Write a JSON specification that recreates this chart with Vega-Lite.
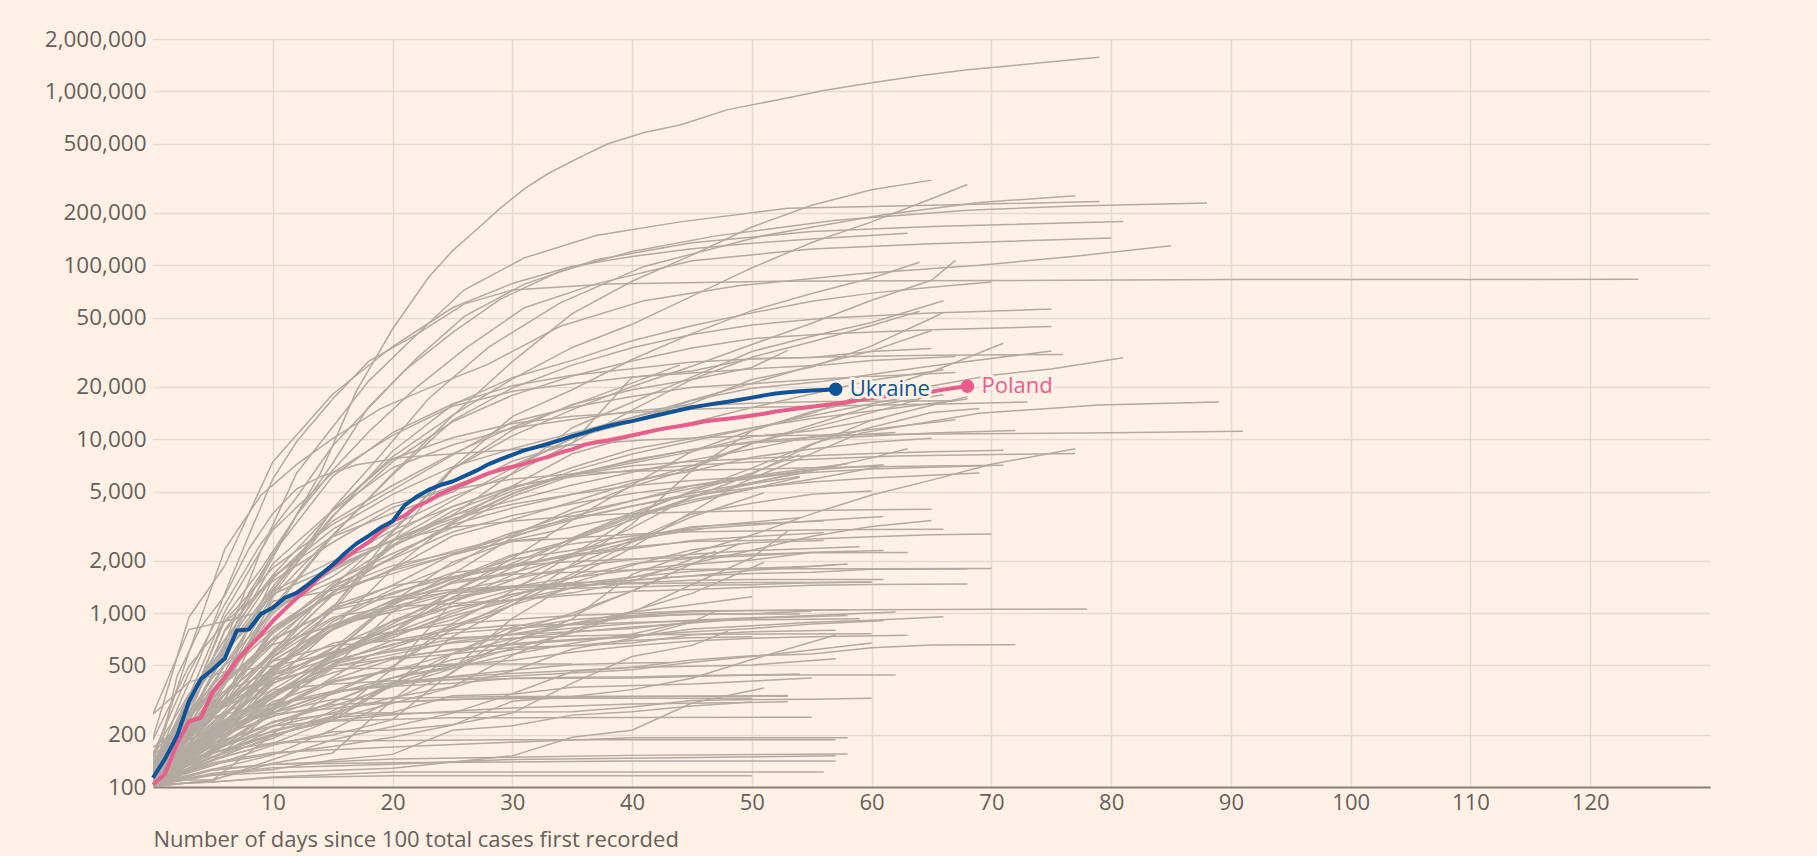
{
"$schema":"https://vega.github.io/schema/vega-lite/v6.json",
"width":1557,"height":748,
"autosize":{"type":"none"},
"padding":{"left":153,"top":39,"right":107,"bottom":69},
"background":"#fff1e5",
"config":{"view":{"stroke":null},"font":"Open Sans"},
"datasets":{
"grey":[
{"c":"US","d":0,"v":118},{"c":"US","d":3,"v":319},{"c":"US","d":6,"v":589},{"c":"US","d":8,"v":1301},{"c":"US","d":11,"v":2800},{"c":"US","d":14,"v":6400},{"c":"US","d":17,"v":19000},{"c":"US","d":20,"v":43000},{"c":"US","d":23,"v":85000},{"c":"US","d":25,"v":121000},{"c":"US","d":27,"v":160000},{"c":"US","d":29,"v":213000},{"c":"US","d":31,"v":275000},{"c":"US","d":33,"v":337000},{"c":"US","d":36,"v":430000},{"c":"US","d":38,"v":500000},{"c":"US","d":41,"v":580000},{"c":"US","d":44,"v":640000},{"c":"US","d":48,"v":785000},{"c":"US","d":52,"v":890000},{"c":"US","d":56,"v":1010000},{"c":"US","d":60,"v":1120000},{"c":"US","d":64,"v":1230000},{"c":"US","d":68,"v":1330000},{"c":"US","d":71,"v":1390000},{"c":"US","d":75,"v":1480000},{"c":"US","d":79,"v":1570000},
{"c":"China","d":0,"v":121},{"c":"China","d":2,"v":278},{"c":"China","d":4,"v":571},{"c":"China","d":6,"v":1300},{"c":"China","d":8,"v":2800},{"c":"China","d":10,"v":5900},{"c":"China","d":12,"v":9700},{"c":"China","d":15,"v":17000},{"c":"China","d":18,"v":28000},{"c":"China","d":22,"v":40000},{"c":"China","d":26,"v":60000},{"c":"China","d":30,"v":72000},{"c":"China","d":38,"v":78000},{"c":"China","d":52,"v":80800},{"c":"China","d":70,"v":81600},{"c":"China","d":90,"v":82700},{"c":"China","d":124,"v":82960},
{"c":"Italy","d":0,"v":155},{"c":"Italy","d":3,"v":453},{"c":"Italy","d":6,"v":1128},{"c":"Italy","d":9,"v":2502},{"c":"Italy","d":12,"v":4636},{"c":"Italy","d":15,"v":9172},{"c":"Italy","d":18,"v":15113},{"c":"Italy","d":21,"v":24747},{"c":"Italy","d":25,"v":41035},{"c":"Italy","d":29,"v":63927},{"c":"Italy","d":34,"v":92472},{"c":"Italy","d":40,"v":119827},{"c":"Italy","d":47,"v":147577},{"c":"Italy","d":57,"v":181228},{"c":"Italy","d":68,"v":207428},{"c":"Italy","d":77,"v":219070},{"c":"Italy","d":88,"v":228006},
{"c":"Spain","d":0,"v":120},{"c":"Spain","d":3,"v":282},{"c":"Spain","d":6,"v":673},{"c":"Spain","d":9,"v":2277},{"c":"Spain","d":12,"v":6391},{"c":"Spain","d":15,"v":11748},{"c":"Spain","d":18,"v":21571},{"c":"Spain","d":22,"v":39885},{"c":"Spain","d":26,"v":72248},{"c":"Spain","d":31,"v":110238},{"c":"Spain","d":37,"v":148220},{"c":"Spain","d":44,"v":177633},{"c":"Spain","d":53,"v":213024},{"c":"Spain","d":64,"v":220325},{"c":"Spain","d":79,"v":232555},
{"c":"Germany","d":0,"v":130},{"c":"Germany","d":3,"v":262},{"c":"Germany","d":6,"v":800},{"c":"Germany","d":9,"v":1565},{"c":"Germany","d":12,"v":3675},{"c":"Germany","d":15,"v":7272},{"c":"Germany","d":18,"v":15320},{"c":"Germany","d":22,"v":29056},{"c":"Germany","d":26,"v":50871},{"c":"Germany","d":31,"v":77872},{"c":"Germany","d":37,"v":107663},{"c":"Germany","d":45,"v":134753},{"c":"Germany","d":55,"v":156513},{"c":"Germany","d":65,"v":167007},{"c":"Germany","d":81,"v":178473},
{"c":"France","d":0,"v":130},{"c":"France","d":3,"v":285},{"c":"France","d":6,"v":949},{"c":"France","d":9,"v":1784},{"c":"France","d":12,"v":3661},{"c":"France","d":15,"v":6633},{"c":"France","d":18,"v":10995},{"c":"France","d":22,"v":19856},{"c":"France","d":26,"v":32964},{"c":"France","d":31,"v":56989},{"c":"France","d":37,"v":78167},{"c":"France","d":45,"v":106206},{"c":"France","d":55,"v":124114},{"c":"France","d":65,"v":132967},{"c":"France","d":80,"v":143427},
{"c":"UK","d":0,"v":115},{"c":"UK","d":3,"v":273},{"c":"UK","d":6,"v":456},{"c":"UK","d":9,"v":1140},{"c":"UK","d":12,"v":1950},{"c":"UK","d":15,"v":3983},{"c":"UK","d":19,"v":8077},{"c":"UK","d":23,"v":17089},{"c":"UK","d":28,"v":33718},{"c":"UK","d":34,"v":60733},{"c":"UK","d":41,"v":98476},{"c":"UK","d":51,"v":148377},{"c":"UK","d":61,"v":194990},{"c":"UK","d":69,"v":229705},{"c":"UK","d":77,"v":250908},
{"c":"Iran","d":0,"v":141},{"c":"Iran","d":3,"v":593},{"c":"Iran","d":6,"v":2336},{"c":"Iran","d":9,"v":4747},{"c":"Iran","d":12,"v":7161},{"c":"Iran","d":15,"v":10075},{"c":"Iran","d":19,"v":14991},{"c":"Iran","d":23,"v":19644},{"c":"Iran","d":28,"v":27017},{"c":"Iran","d":34,"v":44605},{"c":"Iran","d":41,"v":62589},{"c":"Iran","d":49,"v":76389},{"c":"Iran","d":59,"v":89328},{"c":"Iran","d":69,"v":99970},{"c":"Iran","d":77,"v":112725},{"c":"Iran","d":85,"v":129341},
{"c":"Russia","d":0,"v":114},{"c":"Russia","d":3,"v":253},{"c":"Russia","d":6,"v":438},{"c":"Russia","d":10,"v":1036},{"c":"Russia","d":15,"v":2777},{"c":"Russia","d":20,"v":6343},{"c":"Russia","d":25,"v":13584},{"c":"Russia","d":30,"v":27938},{"c":"Russia","d":35,"v":52763},{"c":"Russia","d":40,"v":80949},{"c":"Russia","d":45,"v":114431},{"c":"Russia","d":50,"v":165929},{"c":"Russia","d":55,"v":221344},{"c":"Russia","d":60,"v":272043},{"c":"Russia","d":65,"v":308705},
{"c":"Brazil","d":0,"v":151},{"c":"Brazil","d":3,"v":234},{"c":"Brazil","d":6,"v":621},{"c":"Brazil","d":10,"v":1924},{"c":"Brazil","d":15,"v":3904},{"c":"Brazil","d":20,"v":7910},{"c":"Brazil","d":25,"v":13717},{"c":"Brazil","d":30,"v":22169},{"c":"Brazil","d":35,"v":33682},{"c":"Brazil","d":40,"v":45757},{"c":"Brazil","d":45,"v":66501},{"c":"Brazil","d":50,"v":96559},{"c":"Brazil","d":55,"v":135106},{"c":"Brazil","d":60,"v":177589},{"c":"Brazil","d":65,"v":241080},{"c":"Brazil","d":68,"v":291579},
{"c":"Turkey","d":0,"v":191},{"c":"Turkey","d":3,"v":947},{"c":"Turkey","d":6,"v":1872},{"c":"Turkey","d":10,"v":7402},{"c":"Turkey","d":15,"v":18135},{"c":"Turkey","d":20,"v":34109},{"c":"Turkey","d":25,"v":56956},{"c":"Turkey","d":30,"v":78546},{"c":"Turkey","d":35,"v":98674},{"c":"Turkey","d":40,"v":112261},{"c":"Turkey","d":45,"v":124375},{"c":"Turkey","d":50,"v":133721},{"c":"Turkey","d":55,"v":141475},{"c":"Turkey","d":63,"v":152587},
{"c":"Canada","d":0,"v":103},{"c":"Canada","d":3,"v":198},{"c":"Canada","d":6,"v":424},{"c":"Canada","d":10,"v":1278},{"c":"Canada","d":15,"v":3579},{"c":"Canada","d":20,"v":8527},{"c":"Canada","d":25,"v":15756},{"c":"Canada","d":30,"v":22559},{"c":"Canada","d":35,"v":28379},{"c":"Canada","d":40,"v":36829},{"c":"Canada","d":45,"v":44919},{"c":"Canada","d":50,"v":53236},{"c":"Canada","d":55,"v":62046},{"c":"Canada","d":60,"v":69156},{"c":"Canada","d":65,"v":74781},{"c":"Canada","d":70,"v":80142},
{"c":"Belgium","d":0,"v":169},{"c":"Belgium","d":3,"v":239},{"c":"Belgium","d":6,"v":314},{"c":"Belgium","d":10,"v":1243},{"c":"Belgium","d":15,"v":2815},{"c":"Belgium","d":20,"v":6235},{"c":"Belgium","d":25,"v":12775},{"c":"Belgium","d":30,"v":19691},{"c":"Belgium","d":35,"v":26667},{"c":"Belgium","d":40,"v":33573},{"c":"Belgium","d":45,"v":39983},{"c":"Belgium","d":50,"v":45325},{"c":"Belgium","d":56,"v":49517},{"c":"Belgium","d":65,"v":53081},{"c":"Belgium","d":75,"v":55983},
{"c":"Netherlands","d":0,"v":128},{"c":"Netherlands","d":3,"v":321},{"c":"Netherlands","d":6,"v":614},{"c":"Netherlands","d":10,"v":1413},{"c":"Netherlands","d":15,"v":3631},{"c":"Netherlands","d":20,"v":7431},{"c":"Netherlands","d":25,"v":12595},{"c":"Netherlands","d":30,"v":17851},{"c":"Netherlands","d":35,"v":23097},{"c":"Netherlands","d":40,"v":28153},{"c":"Netherlands","d":45,"v":33405},{"c":"Netherlands","d":50,"v":37845},{"c":"Netherlands","d":56,"v":40236},{"c":"Netherlands","d":65,"v":42627},{"c":"Netherlands","d":75,"v":44447},
{"c":"Switzerland","d":0,"v":120},{"c":"Switzerland","d":3,"v":337},{"c":"Switzerland","d":6,"v":652},{"c":"Switzerland","d":10,"v":2200},{"c":"Switzerland","d":15,"v":6113},{"c":"Switzerland","d":20,"v":10897},{"c":"Switzerland","d":25,"v":15922},{"c":"Switzerland","d":30,"v":20278},{"c":"Switzerland","d":35,"v":23280},{"c":"Switzerland","d":40,"v":25415},{"c":"Switzerland","d":45,"v":27740},{"c":"Switzerland","d":50,"v":28894},{"c":"Switzerland","d":56,"v":29705},{"c":"Switzerland","d":65,"v":30344},{"c":"Switzerland","d":76,"v":30658},
{"c":"Sweden","d":0,"v":137},{"c":"Sweden","d":3,"v":248},{"c":"Sweden","d":6,"v":620},{"c":"Sweden","d":10,"v":1103},{"c":"Sweden","d":15,"v":1623},{"c":"Sweden","d":20,"v":2806},{"c":"Sweden","d":25,"v":4435},{"c":"Sweden","d":30,"v":6830},{"c":"Sweden","d":35,"v":10151},{"c":"Sweden","d":40,"v":12540},{"c":"Sweden","d":45,"v":16755},{"c":"Sweden","d":50,"v":19621},{"c":"Sweden","d":56,"v":21520},{"c":"Sweden","d":65,"v":26322},{"c":"Sweden","d":75,"v":32172},
{"c":"Portugal","d":0,"v":112},{"c":"Portugal","d":3,"v":331},{"c":"Portugal","d":6,"v":1020},{"c":"Portugal","d":10,"v":2995},{"c":"Portugal","d":15,"v":6408},{"c":"Portugal","d":20,"v":10524},{"c":"Portugal","d":25,"v":15472},{"c":"Portugal","d":30,"v":18841},{"c":"Portugal","d":35,"v":20863},{"c":"Portugal","d":40,"v":22797},{"c":"Portugal","d":45,"v":24027},{"c":"Portugal","d":50,"v":25351},{"c":"Portugal","d":56,"v":26715},{"c":"Portugal","d":60,"v":28319},{"c":"Portugal","d":67,"v":29912},
{"c":"Austria","d":0,"v":104},{"c":"Austria","d":3,"v":246},{"c":"Austria","d":6,"v":504},{"c":"Austria","d":10,"v":1332},{"c":"Austria","d":15,"v":3924},{"c":"Austria","d":20,"v":7697},{"c":"Austria","d":25,"v":10180},{"c":"Austria","d":30,"v":12297},{"c":"Austria","d":35,"v":13560},{"c":"Austria","d":40,"v":14226},{"c":"Austria","d":45,"v":14873},{"c":"Austria","d":50,"v":15225},{"c":"Austria","d":56,"v":15531},{"c":"Austria","d":65,"v":15871},{"c":"Austria","d":73,"v":16353},
{"c":"Israel","d":0,"v":126},{"c":"Israel","d":3,"v":337},{"c":"Israel","d":6,"v":705},{"c":"Israel","d":10,"v":1656},{"c":"Israel","d":15,"v":3865},{"c":"Israel","d":20,"v":6857},{"c":"Israel","d":25,"v":9248},{"c":"Israel","d":30,"v":11586},{"c":"Israel","d":35,"v":12982},{"c":"Israel","d":40,"v":14498},{"c":"Israel","d":45,"v":15589},{"c":"Israel","d":50,"v":16101},{"c":"Israel","d":56,"v":16454},{"c":"Israel","d":67,"v":16659},
{"c":"Ireland","d":0,"v":129},{"c":"Ireland","d":3,"v":292},{"c":"Ireland","d":6,"v":906},{"c":"Ireland","d":10,"v":1819},{"c":"Ireland","d":15,"v":3235},{"c":"Ireland","d":20,"v":5111},{"c":"Ireland","d":25,"v":8089},{"c":"Ireland","d":30,"v":12547},{"c":"Ireland","d":35,"v":15251},{"c":"Ireland","d":40,"v":17607},{"c":"Ireland","d":45,"v":19877},{"c":"Ireland","d":50,"v":20833},{"c":"Ireland","d":56,"v":22248},{"c":"Ireland","d":67,"v":24200},
{"c":"Chile","d":0,"v":156},{"c":"Chile","d":3,"v":342},{"c":"Chile","d":6,"v":632},{"c":"Chile","d":10,"v":1610},{"c":"Chile","d":15,"v":3031},{"c":"Chile","d":20,"v":4815},{"c":"Chile","d":25,"v":6927},{"c":"Chile","d":30,"v":8807},{"c":"Chile","d":35,"v":10832},{"c":"Chile","d":40,"v":13331},{"c":"Chile","d":45,"v":16023},{"c":"Chile","d":50,"v":22016},{"c":"Chile","d":55,"v":25972},{"c":"Chile","d":60,"v":34381},{"c":"Chile","d":65,"v":49579},{"c":"Chile","d":66,"v":53617},
{"c":"Peru","d":0,"v":117},{"c":"Peru","d":3,"v":263},{"c":"Peru","d":6,"v":395},{"c":"Peru","d":10,"v":671},{"c":"Peru","d":15,"v":1414},{"c":"Peru","d":20,"v":2954},{"c":"Peru","d":25,"v":6848},{"c":"Peru","d":30,"v":13489},{"c":"Peru","d":35,"v":19250},{"c":"Peru","d":40,"v":28699},{"c":"Peru","d":45,"v":40459},{"c":"Peru","d":50,"v":54817},{"c":"Peru","d":55,"v":68822},{"c":"Peru","d":60,"v":84495},{"c":"Peru","d":64,"v":104020},
{"c":"India","d":0,"v":102},{"c":"India","d":3,"v":137},{"c":"India","d":6,"v":227},{"c":"India","d":10,"v":562},{"c":"India","d":15,"v":1024},{"c":"India","d":20,"v":2567},{"c":"India","d":25,"v":6725},{"c":"India","d":30,"v":10453},{"c":"India","d":35,"v":14792},{"c":"India","d":40,"v":20080},{"c":"India","d":45,"v":26283},{"c":"India","d":50,"v":35043},{"c":"India","d":55,"v":46437},{"c":"India","d":60,"v":62939},{"c":"India","d":65,"v":81997},{"c":"India","d":67,"v":106750},
{"c":"Saudi Arabia","d":0,"v":103},{"c":"Saudi Arabia","d":3,"v":171},{"c":"Saudi Arabia","d":6,"v":344},{"c":"Saudi Arabia","d":10,"v":767},{"c":"Saudi Arabia","d":15,"v":1299},{"c":"Saudi Arabia","d":20,"v":2402},{"c":"Saudi Arabia","d":25,"v":3651},{"c":"Saudi Arabia","d":30,"v":6380},{"c":"Saudi Arabia","d":35,"v":11631},{"c":"Saudi Arabia","d":40,"v":16299},{"c":"Saudi Arabia","d":45,"v":22753},{"c":"Saudi Arabia","d":50,"v":31938},{"c":"Saudi Arabia","d":55,"v":39048},{"c":"Saudi Arabia","d":60,"v":46869},{"c":"Saudi Arabia","d":66,"v":62545},
{"c":"Mexico","d":0,"v":118},{"c":"Mexico","d":3,"v":251},{"c":"Mexico","d":6,"v":405},{"c":"Mexico","d":10,"v":993},{"c":"Mexico","d":15,"v":1890},{"c":"Mexico","d":20,"v":3181},{"c":"Mexico","d":25,"v":4661},{"c":"Mexico","d":30,"v":6297},{"c":"Mexico","d":35,"v":9501},{"c":"Mexico","d":40,"v":14677},{"c":"Mexico","d":45,"v":22088},{"c":"Mexico","d":50,"v":29616},{"c":"Mexico","d":55,"v":36327},{"c":"Mexico","d":60,"v":45032},{"c":"Mexico","d":64,"v":54346},
{"c":"Pakistan","d":0,"v":187},{"c":"Pakistan","d":3,"v":495},{"c":"Pakistan","d":6,"v":887},{"c":"Pakistan","d":10,"v":1526},{"c":"Pakistan","d":15,"v":2546},{"c":"Pakistan","d":20,"v":4035},{"c":"Pakistan","d":25,"v":5374},{"c":"Pakistan","d":30,"v":7025},{"c":"Pakistan","d":35,"v":10076},{"c":"Pakistan","d":40,"v":13328},{"c":"Pakistan","d":45,"v":16817},{"c":"Pakistan","d":50,"v":20941},{"c":"Pakistan","d":55,"v":26435},{"c":"Pakistan","d":60,"v":32081},{"c":"Pakistan","d":65,"v":42125},
{"c":"Qatar","d":0,"v":262},{"c":"Qatar","d":3,"v":401},{"c":"Qatar","d":6,"v":460},{"c":"Qatar","d":10,"v":494},{"c":"Qatar","d":15,"v":590},{"c":"Qatar","d":20,"v":781},{"c":"Qatar","d":25,"v":1325},{"c":"Qatar","d":30,"v":2057},{"c":"Qatar","d":35,"v":3428},{"c":"Qatar","d":40,"v":5448},{"c":"Qatar","d":45,"v":8525},{"c":"Qatar","d":50,"v":11244},{"c":"Qatar","d":55,"v":14096},{"c":"Qatar","d":60,"v":18890},{"c":"Qatar","d":65,"v":24314},{"c":"Qatar","d":71,"v":35606},
{"c":"Singapore","d":0,"v":106},{"c":"Singapore","d":6,"v":150},{"c":"Singapore","d":10,"v":178},{"c":"Singapore","d":15,"v":243},{"c":"Singapore","d":20,"v":385},{"c":"Singapore","d":25,"v":732},{"c":"Singapore","d":30,"v":1114},{"c":"Singapore","d":35,"v":1910},{"c":"Singapore","d":40,"v":3252},{"c":"Singapore","d":45,"v":6588},{"c":"Singapore","d":50,"v":11178},{"c":"Singapore","d":55,"v":14423},{"c":"Singapore","d":60,"v":17101},{"c":"Singapore","d":65,"v":20198},{"c":"Singapore","d":70,"v":23336},{"c":"Singapore","d":75,"v":25346},{"c":"Singapore","d":81,"v":29364},
{"c":"Japan","d":0,"v":105},{"c":"Japan","d":9,"v":241},{"c":"Japan","d":18,"v":568},{"c":"Japan","d":28,"v":963},{"c":"Japan","d":39,"v":2178},{"c":"Japan","d":49,"v":5548},{"c":"Japan","d":59,"v":10797},{"c":"Japan","d":69,"v":14088},{"c":"Japan","d":79,"v":15747},{"c":"Japan","d":89,"v":16367},
{"c":"South Korea","d":0,"v":104},{"c":"South Korea","d":2,"v":433},{"c":"South Korea","d":4,"v":833},{"c":"South Korea","d":6,"v":1261},{"c":"South Korea","d":8,"v":2337},{"c":"South Korea","d":10,"v":3736},{"c":"South Korea","d":12,"v":5186},{"c":"South Korea","d":14,"v":6088},{"c":"South Korea","d":17,"v":7134},{"c":"South Korea","d":21,"v":7869},{"c":"South Korea","d":27,"v":8413},{"c":"South Korea","d":34,"v":9137},{"c":"South Korea","d":41,"v":9887},{"c":"South Korea","d":50,"v":10450},{"c":"South Korea","d":65,"v":10718},{"c":"South Korea","d":80,"v":10874},{"c":"South Korea","d":91,"v":11122},
{"c":"Belarus","d":0,"v":100},{"c":"Belarus","d":5,"v":163},{"c":"Belarus","d":10,"v":440},{"c":"Belarus","d":15,"v":1066},{"c":"Belarus","d":20,"v":2919},{"c":"Belarus","d":25,"v":6723},{"c":"Belarus","d":30,"v":11289},{"c":"Belarus","d":35,"v":15828},{"c":"Belarus","d":40,"v":19255},{"c":"Belarus","d":45,"v":22052},{"c":"Belarus","d":50,"v":25825},{"c":"Belarus","d":53,"v":32426},
{"c":"Ecuador","d":0,"v":111},{"c":"Ecuador","d":3,"v":260},{"c":"Ecuador","d":6,"v":789},{"c":"Ecuador","d":10,"v":1627},{"c":"Ecuador","d":15,"v":2748},{"c":"Ecuador","d":20,"v":3747},{"c":"Ecuador","d":25,"v":4965},{"c":"Ecuador","d":30,"v":7466},{"c":"Ecuador","d":35,"v":9468},{"c":"Ecuador","d":40,"v":22719},{"c":"Ecuador","d":45,"v":24675},{"c":"Ecuador","d":50,"v":29071},{"c":"Ecuador","d":55,"v":29509},{"c":"Ecuador","d":60,"v":31881},{"c":"Ecuador","d":65,"v":33182},
{"c":"Indonesia","d":0,"v":117},{"c":"Indonesia","d":3,"v":227},{"c":"Indonesia","d":6,"v":450},{"c":"Indonesia","d":10,"v":790},{"c":"Indonesia","d":15,"v":1414},{"c":"Indonesia","d":20,"v":2092},{"c":"Indonesia","d":25,"v":3293},{"c":"Indonesia","d":30,"v":4839},{"c":"Indonesia","d":35,"v":6575},{"c":"Indonesia","d":40,"v":8211},{"c":"Indonesia","d":45,"v":9771},{"c":"Indonesia","d":50,"v":11587},{"c":"Indonesia","d":55,"v":13645},{"c":"Indonesia","d":60,"v":16006},{"c":"Indonesia","d":66,"v":19189},
{"c":"Philippines","d":0,"v":111},{"c":"Philippines","d":3,"v":187},{"c":"Philippines","d":6,"v":230},{"c":"Philippines","d":10,"v":462},{"c":"Philippines","d":15,"v":1075},{"c":"Philippines","d":20,"v":2633},{"c":"Philippines","d":25,"v":3660},{"c":"Philippines","d":30,"v":4428},{"c":"Philippines","d":35,"v":5453},{"c":"Philippines","d":40,"v":6459},{"c":"Philippines","d":45,"v":7579},{"c":"Philippines","d":50,"v":8772},{"c":"Philippines","d":55,"v":10343},{"c":"Philippines","d":60,"v":11350},{"c":"Philippines","d":67,"v":12942},
{"c":"Romania","d":0,"v":123},{"c":"Romania","d":3,"v":217},{"c":"Romania","d":6,"v":308},{"c":"Romania","d":10,"v":576},{"c":"Romania","d":15,"v":1292},{"c":"Romania","d":20,"v":2460},{"c":"Romania","d":25,"v":3864},{"c":"Romania","d":30,"v":5202},{"c":"Romania","d":35,"v":6879},{"c":"Romania","d":40,"v":8746},{"c":"Romania","d":45,"v":10096},{"c":"Romania","d":50,"v":11616},{"c":"Romania","d":55,"v":13163},{"c":"Romania","d":60,"v":14499},{"c":"Romania","d":68,"v":17036},
{"c":"Denmark","d":0,"v":264},{"c":"Denmark","d":3,"v":804},{"c":"Denmark","d":6,"v":898},{"c":"Denmark","d":10,"v":1057},{"c":"Denmark","d":15,"v":1514},{"c":"Denmark","d":20,"v":2201},{"c":"Denmark","d":25,"v":3107},{"c":"Denmark","d":30,"v":4681},{"c":"Denmark","d":35,"v":6174},{"c":"Denmark","d":40,"v":7580},{"c":"Denmark","d":45,"v":8698},{"c":"Denmark","d":50,"v":9523},{"c":"Denmark","d":56,"v":10083},{"c":"Denmark","d":65,"v":10858},{"c":"Denmark","d":72,"v":11230},
{"c":"Norway","d":0,"v":108},{"c":"Norway","d":3,"v":192},{"c":"Norway","d":6,"v":400},{"c":"Norway","d":10,"v":1077},{"c":"Norway","d":15,"v":1746},{"c":"Norway","d":20,"v":2625},{"c":"Norway","d":25,"v":4102},{"c":"Norway","d":30,"v":5370},{"c":"Norway","d":35,"v":6086},{"c":"Norway","d":40,"v":6623},{"c":"Norway","d":45,"v":7078},{"c":"Norway","d":50,"v":7401},{"c":"Norway","d":55,"v":7660},{"c":"Norway","d":62,"v":7996},{"c":"Norway","d":69,"v":8132},{"c":"Norway","d":77,"v":8267},
{"c":"Czechia","d":0,"v":116},{"c":"Czechia","d":3,"v":253},{"c":"Czechia","d":6,"v":434},{"c":"Czechia","d":10,"v":1047},{"c":"Czechia","d":15,"v":1925},{"c":"Czechia","d":20,"v":3001},{"c":"Czechia","d":25,"v":4091},{"c":"Czechia","d":30,"v":5312},{"c":"Czechia","d":35,"v":6216},{"c":"Czechia","d":40,"v":7033},{"c":"Czechia","d":45,"v":7445},{"c":"Czechia","d":50,"v":7737},{"c":"Czechia","d":55,"v":8031},{"c":"Czechia","d":60,"v":8269},{"c":"Czechia","d":65,"v":8455},{"c":"Czechia","d":71,"v":8647},
{"c":"Dominican Rep","d":0,"v":112},{"c":"Dominican Rep","d":3,"v":245},{"c":"Dominican Rep","d":6,"v":581},{"c":"Dominican Rep","d":10,"v":1284},{"c":"Dominican Rep","d":15,"v":1828},{"c":"Dominican Rep","d":20,"v":2620},{"c":"Dominican Rep","d":25,"v":3614},{"c":"Dominican Rep","d":30,"v":5044},{"c":"Dominican Rep","d":35,"v":6293},{"c":"Dominican Rep","d":40,"v":7288},{"c":"Dominican Rep","d":45,"v":8480},{"c":"Dominican Rep","d":50,"v":10347},{"c":"Dominican Rep","d":55,"v":11196},{"c":"Dominican Rep","d":61,"v":13223},
{"c":"Panama","d":0,"v":109},{"c":"Panama","d":3,"v":200},{"c":"Panama","d":6,"v":345},{"c":"Panama","d":10,"v":786},{"c":"Panama","d":15,"v":1317},{"c":"Panama","d":20,"v":2100},{"c":"Panama","d":25,"v":3234},{"c":"Panama","d":30,"v":4016},{"c":"Panama","d":35,"v":4821},{"c":"Panama","d":40,"v":5779},{"c":"Panama","d":45,"v":6532},{"c":"Panama","d":50,"v":7868},{"c":"Panama","d":55,"v":8783},{"c":"Panama","d":60,"v":9606},{"c":"Panama","d":65,"v":10116},
{"c":"Colombia","d":0,"v":102},{"c":"Colombia","d":3,"v":210},{"c":"Colombia","d":6,"v":306},{"c":"Colombia","d":10,"v":608},{"c":"Colombia","d":15,"v":1267},{"c":"Colombia","d":20,"v":1780},{"c":"Colombia","d":25,"v":2776},{"c":"Colombia","d":30,"v":3439},{"c":"Colombia","d":35,"v":4356},{"c":"Colombia","d":40,"v":5597},{"c":"Colombia","d":45,"v":7006},{"c":"Colombia","d":50,"v":9456},{"c":"Colombia","d":55,"v":11613},{"c":"Colombia","d":60,"v":14216},{"c":"Colombia","d":64,"v":16935},
{"c":"South Africa","d":0,"v":114},{"c":"South Africa","d":3,"v":202},{"c":"South Africa","d":6,"v":402},{"c":"South Africa","d":10,"v":1170},{"c":"South Africa","d":15,"v":1353},{"c":"South Africa","d":20,"v":1686},{"c":"South Africa","d":25,"v":2173},{"c":"South Africa","d":30,"v":2783},{"c":"South Africa","d":35,"v":3953},{"c":"South Africa","d":40,"v":5350},{"c":"South Africa","d":45,"v":6783},{"c":"South Africa","d":50,"v":9420},{"c":"South Africa","d":55,"v":12074},{"c":"South Africa","d":60,"v":15515},{"c":"South Africa","d":66,"v":18003},
{"c":"Egypt","d":0,"v":109},{"c":"Egypt","d":3,"v":126},{"c":"Egypt","d":6,"v":196},{"c":"Egypt","d":10,"v":327},{"c":"Egypt","d":15,"v":576},{"c":"Egypt","d":20,"v":865},{"c":"Egypt","d":25,"v":1322},{"c":"Egypt","d":30,"v":1939},{"c":"Egypt","d":35,"v":2673},{"c":"Egypt","d":40,"v":3659},{"c":"Egypt","d":45,"v":5042},{"c":"Egypt","d":50,"v":6813},{"c":"Egypt","d":55,"v":9400},{"c":"Egypt","d":60,"v":11719},{"c":"Egypt","d":65,"v":14229},{"c":"Egypt","d":69,"v":15003},
{"c":"Argentina","d":0,"v":128},{"c":"Argentina","d":3,"v":225},{"c":"Argentina","d":6,"v":502},{"c":"Argentina","d":10,"v":820},{"c":"Argentina","d":15,"v":1265},{"c":"Argentina","d":20,"v":1795},{"c":"Argentina","d":25,"v":2272},{"c":"Argentina","d":30,"v":2758},{"c":"Argentina","d":35,"v":3435},{"c":"Argentina","d":40,"v":4127},{"c":"Argentina","d":45,"v":4887},{"c":"Argentina","d":50,"v":5611},{"c":"Argentina","d":55,"v":6563},{"c":"Argentina","d":60,"v":7805},{"c":"Argentina","d":63,"v":8809},
{"c":"Kuwait","d":0,"v":100},{"c":"Kuwait","d":3,"v":123},{"c":"Kuwait","d":6,"v":176},{"c":"Kuwait","d":10,"v":208},{"c":"Kuwait","d":15,"v":255},{"c":"Kuwait","d":20,"v":479},{"c":"Kuwait","d":25,"v":1154},{"c":"Kuwait","d":30,"v":1658},{"c":"Kuwait","d":35,"v":2614},{"c":"Kuwait","d":40,"v":3440},{"c":"Kuwait","d":45,"v":4619},{"c":"Kuwait","d":50,"v":6289},{"c":"Kuwait","d":55,"v":9286},{"c":"Kuwait","d":60,"v":12860},{"c":"Kuwait","d":65,"v":15691},{"c":"Kuwait","d":68,"v":17568},
{"c":"UAE","d":0,"v":113},{"c":"UAE","d":3,"v":140},{"c":"UAE","d":6,"v":198},{"c":"UAE","d":10,"v":405},{"c":"UAE","d":15,"v":814},{"c":"UAE","d":20,"v":1799},{"c":"UAE","d":25,"v":3360},{"c":"UAE","d":30,"v":5365},{"c":"UAE","d":35,"v":8238},{"c":"UAE","d":40,"v":10349},{"c":"UAE","d":45,"v":12481},{"c":"UAE","d":50,"v":15192},{"c":"UAE","d":55,"v":18198},{"c":"UAE","d":60,"v":21831},{"c":"UAE","d":66,"v":25063},
{"c":"Bangladesh","d":0,"v":123},{"c":"Bangladesh","d":3,"v":218},{"c":"Bangladesh","d":6,"v":424},{"c":"Bangladesh","d":10,"v":1572},{"c":"Bangladesh","d":15,"v":3382},{"c":"Bangladesh","d":20,"v":5416},{"c":"Bangladesh","d":25,"v":8238},{"c":"Bangladesh","d":30,"v":11719},{"c":"Bangladesh","d":35,"v":15691},{"c":"Bangladesh","d":40,"v":20995},{"c":"Bangladesh","d":44,"v":26738},
{"c":"Serbia","d":0,"v":103},{"c":"Serbia","d":3,"v":222},{"c":"Serbia","d":6,"v":303},{"c":"Serbia","d":10,"v":785},{"c":"Serbia","d":15,"v":1476},{"c":"Serbia","d":20,"v":2447},{"c":"Serbia","d":25,"v":3380},{"c":"Serbia","d":30,"v":4873},{"c":"Serbia","d":35,"v":6318},{"c":"Serbia","d":40,"v":7483},{"c":"Serbia","d":45,"v":8724},{"c":"Serbia","d":50,"v":9677},{"c":"Serbia","d":55,"v":10258},{"c":"Serbia","d":62,"v":10919},
{"c":"Moldova","d":0,"v":125},{"c":"Moldova","d":5,"v":298},{"c":"Moldova","d":10,"v":591},{"c":"Moldova","d":15,"v":1438},{"c":"Moldova","d":20,"v":2049},{"c":"Moldova","d":25,"v":2926},{"c":"Moldova","d":30,"v":3638},{"c":"Moldova","d":35,"v":4247},{"c":"Moldova","d":40,"v":4867},{"c":"Moldova","d":45,"v":5406},{"c":"Moldova","d":50,"v":5934},{"c":"Moldova","d":57,"v":6960},
{"c":"Morocco","d":0,"v":115},{"c":"Morocco","d":3,"v":170},{"c":"Morocco","d":6,"v":275},{"c":"Morocco","d":10,"v":556},{"c":"Morocco","d":15,"v":919},{"c":"Morocco","d":20,"v":1374},{"c":"Morocco","d":25,"v":1888},{"c":"Morocco","d":30,"v":2855},{"c":"Morocco","d":35,"v":3758},{"c":"Morocco","d":40,"v":4423},{"c":"Morocco","d":45,"v":5219},{"c":"Morocco","d":50,"v":6063},{"c":"Morocco","d":55,"v":6652},{"c":"Morocco","d":61,"v":7133},
{"c":"Finland","d":0,"v":155},{"c":"Finland","d":3,"v":272},{"c":"Finland","d":6,"v":400},{"c":"Finland","d":10,"v":700},{"c":"Finland","d":15,"v":1041},{"c":"Finland","d":20,"v":1446},{"c":"Finland","d":25,"v":2176},{"c":"Finland","d":30,"v":2905},{"c":"Finland","d":35,"v":3489},{"c":"Finland","d":40,"v":4129},{"c":"Finland","d":45,"v":4740},{"c":"Finland","d":50,"v":5254},{"c":"Finland","d":55,"v":5673},{"c":"Finland","d":60,"v":5984},{"c":"Finland","d":69,"v":6399},
{"c":"Algeria","d":0,"v":139},{"c":"Algeria","d":3,"v":264},{"c":"Algeria","d":6,"v":409},{"c":"Algeria","d":10,"v":716},{"c":"Algeria","d":15,"v":1320},{"c":"Algeria","d":20,"v":1761},{"c":"Algeria","d":25,"v":2160},{"c":"Algeria","d":30,"v":2629},{"c":"Algeria","d":35,"v":3127},{"c":"Algeria","d":40,"v":3649},{"c":"Algeria","d":45,"v":4474},{"c":"Algeria","d":50,"v":5182},{"c":"Algeria","d":55,"v":5891},{"c":"Algeria","d":61,"v":7019},
{"c":"Ghana","d":0,"v":137},{"c":"Ghana","d":5,"v":195},{"c":"Ghana","d":10,"v":287},{"c":"Ghana","d":15,"v":566},{"c":"Ghana","d":20,"v":834},{"c":"Ghana","d":25,"v":1154},{"c":"Ghana","d":30,"v":1550},{"c":"Ghana","d":35,"v":2169},{"c":"Ghana","d":40,"v":3091},{"c":"Ghana","d":45,"v":4700},{"c":"Ghana","d":50,"v":5530},{"c":"Ghana","d":54,"v":6096},
{"c":"Nigeria","d":0,"v":111},{"c":"Nigeria","d":5,"v":190},{"c":"Nigeria","d":10,"v":254},{"c":"Nigeria","d":15,"v":343},{"c":"Nigeria","d":20,"v":493},{"c":"Nigeria","d":25,"v":873},{"c":"Nigeria","d":30,"v":1337},{"c":"Nigeria","d":35,"v":2170},{"c":"Nigeria","d":40,"v":3526},{"c":"Nigeria","d":45,"v":4641},{"c":"Nigeria","d":50,"v":5621},{"c":"Nigeria","d":54,"v":6401},
{"c":"Kazakhstan","d":0,"v":100},{"c":"Kazakhstan","d":5,"v":228},{"c":"Kazakhstan","d":10,"v":464},{"c":"Kazakhstan","d":15,"v":802},{"c":"Kazakhstan","d":20,"v":1109},{"c":"Kazakhstan","d":25,"v":1676},{"c":"Kazakhstan","d":30,"v":2717},{"c":"Kazakhstan","d":35,"v":3597},{"c":"Kazakhstan","d":40,"v":4422},{"c":"Kazakhstan","d":45,"v":5417},{"c":"Kazakhstan","d":50,"v":6157},{"c":"Kazakhstan","d":58,"v":7234},
{"c":"Oman","d":0,"v":131},{"c":"Oman","d":5,"v":210},{"c":"Oman","d":10,"v":331},{"c":"Oman","d":15,"v":484},{"c":"Oman","d":20,"v":1019},{"c":"Oman","d":25,"v":1508},{"c":"Oman","d":30,"v":2131},{"c":"Oman","d":35,"v":2637},{"c":"Oman","d":40,"v":3573},{"c":"Oman","d":45,"v":4341},{"c":"Oman","d":50,"v":5186},{"c":"Oman","d":54,"v":6043},
{"c":"Afghanistan","d":0,"v":110},{"c":"Afghanistan","d":5,"v":196},{"c":"Afghanistan","d":10,"v":423},{"c":"Afghanistan","d":15,"v":555},{"c":"Afghanistan","d":20,"v":906},{"c":"Afghanistan","d":25,"v":1226},{"c":"Afghanistan","d":30,"v":1828},{"c":"Afghanistan","d":35,"v":2704},{"c":"Afghanistan","d":40,"v":3778},{"c":"Afghanistan","d":45,"v":4963},{"c":"Afghanistan","d":50,"v":6402},{"c":"Afghanistan","d":54,"v":8145},
{"c":"Bahrain","d":0,"v":109},{"c":"Bahrain","d":5,"v":110},{"c":"Bahrain","d":10,"v":200},{"c":"Bahrain","d":15,"v":241},{"c":"Bahrain","d":20,"v":392},{"c":"Bahrain","d":25,"v":499},{"c":"Bahrain","d":30,"v":672},{"c":"Bahrain","d":35,"v":925},{"c":"Bahrain","d":40,"v":1671},{"c":"Bahrain","d":45,"v":2217},{"c":"Bahrain","d":50,"v":2811},{"c":"Bahrain","d":55,"v":3720},{"c":"Bahrain","d":60,"v":4774},{"c":"Bahrain","d":65,"v":5816},{"c":"Bahrain","d":70,"v":7184},{"c":"Bahrain","d":77,"v":8802},
{"c":"Luxembourg","d":0,"v":140},{"c":"Luxembourg","d":5,"v":484},{"c":"Luxembourg","d":10,"v":1333},{"c":"Luxembourg","d":15,"v":1988},{"c":"Luxembourg","d":20,"v":2612},{"c":"Luxembourg","d":25,"v":3115},{"c":"Luxembourg","d":30,"v":3373},{"c":"Luxembourg","d":35,"v":3618},{"c":"Luxembourg","d":40,"v":3741},{"c":"Luxembourg","d":45,"v":3815},{"c":"Luxembourg","d":50,"v":3871},{"c":"Luxembourg","d":55,"v":3886},{"c":"Luxembourg","d":60,"v":3930},{"c":"Luxembourg","d":65,"v":3958},
{"c":"Iceland","d":0,"v":103},{"c":"Iceland","d":5,"v":180},{"c":"Iceland","d":10,"v":473},{"c":"Iceland","d":15,"v":802},{"c":"Iceland","d":20,"v":1135},{"c":"Iceland","d":25,"v":1486},{"c":"Iceland","d":30,"v":1675},{"c":"Iceland","d":35,"v":1720},{"c":"Iceland","d":40,"v":1771},{"c":"Iceland","d":50,"v":1797},{"c":"Iceland","d":60,"v":1801},{"c":"Iceland","d":70,"v":1802},
{"c":"Estonia","d":0,"v":115},{"c":"Estonia","d":5,"v":205},{"c":"Estonia","d":10,"v":326},{"c":"Estonia","d":15,"v":575},{"c":"Estonia","d":20,"v":745},{"c":"Estonia","d":25,"v":961},{"c":"Estonia","d":30,"v":1185},{"c":"Estonia","d":35,"v":1400},{"c":"Estonia","d":40,"v":1552},{"c":"Estonia","d":45,"v":1635},{"c":"Estonia","d":50,"v":1691},{"c":"Estonia","d":55,"v":1720},{"c":"Estonia","d":60,"v":1784},{"c":"Estonia","d":68,"v":1791},
{"c":"Slovenia","d":0,"v":141},{"c":"Slovenia","d":5,"v":275},{"c":"Slovenia","d":10,"v":414},{"c":"Slovenia","d":15,"v":632},{"c":"Slovenia","d":20,"v":897},{"c":"Slovenia","d":25,"v":1091},{"c":"Slovenia","d":30,"v":1188},{"c":"Slovenia","d":35,"v":1268},{"c":"Slovenia","d":40,"v":1335},{"c":"Slovenia","d":45,"v":1366},{"c":"Slovenia","d":50,"v":1408},{"c":"Slovenia","d":55,"v":1445},{"c":"Slovenia","d":60,"v":1461},{"c":"Slovenia","d":68,"v":1468},
{"c":"Croatia","d":0,"v":105},{"c":"Croatia","d":5,"v":254},{"c":"Croatia","d":10,"v":586},{"c":"Croatia","d":15,"v":1079},{"c":"Croatia","d":20,"v":1282},{"c":"Croatia","d":25,"v":1704},{"c":"Croatia","d":30,"v":1871},{"c":"Croatia","d":35,"v":1981},{"c":"Croatia","d":40,"v":2047},{"c":"Croatia","d":45,"v":2096},{"c":"Croatia","d":50,"v":2176},{"c":"Croatia","d":55,"v":2226},{"c":"Croatia","d":63,"v":2232},
{"c":"Greece","d":0,"v":117},{"c":"Greece","d":5,"v":331},{"c":"Greece","d":10,"v":464},{"c":"Greece","d":15,"v":892},{"c":"Greece","d":20,"v":1314},{"c":"Greece","d":25,"v":1613},{"c":"Greece","d":30,"v":1832},{"c":"Greece","d":35,"v":2170},{"c":"Greece","d":40,"v":2401},{"c":"Greece","d":45,"v":2576},{"c":"Greece","d":50,"v":2612},{"c":"Greece","d":55,"v":2663},{"c":"Greece","d":60,"v":2744},{"c":"Greece","d":65,"v":2819},{"c":"Greece","d":70,"v":2853},
{"c":"Hungary","d":0,"v":103},{"c":"Hungary","d":5,"v":226},{"c":"Hungary","d":10,"v":492},{"c":"Hungary","d":15,"v":817},{"c":"Hungary","d":20,"v":1190},{"c":"Hungary","d":25,"v":1579},{"c":"Hungary","d":30,"v":2168},{"c":"Hungary","d":35,"v":2500},{"c":"Hungary","d":40,"v":2775},{"c":"Hungary","d":45,"v":3035},{"c":"Hungary","d":50,"v":3213},{"c":"Hungary","d":55,"v":3380},{"c":"Hungary","d":61,"v":3598},
{"c":"Lebanon","d":0,"v":110},{"c":"Lebanon","d":5,"v":206},{"c":"Lebanon","d":10,"v":412},{"c":"Lebanon","d":15,"v":494},{"c":"Lebanon","d":20,"v":548},{"c":"Lebanon","d":25,"v":619},{"c":"Lebanon","d":30,"v":658},{"c":"Lebanon","d":35,"v":696},{"c":"Lebanon","d":40,"v":729},{"c":"Lebanon","d":45,"v":809},{"c":"Lebanon","d":50,"v":845},{"c":"Lebanon","d":55,"v":886},{"c":"Lebanon","d":60,"v":911},{"c":"Lebanon","d":66,"v":954},
{"c":"Thailand","d":0,"v":114},{"c":"Thailand","d":3,"v":177},{"c":"Thailand","d":6,"v":322},{"c":"Thailand","d":10,"v":827},{"c":"Thailand","d":15,"v":1388},{"c":"Thailand","d":20,"v":1875},{"c":"Thailand","d":25,"v":2220},{"c":"Thailand","d":30,"v":2579},{"c":"Thailand","d":35,"v":2700},{"c":"Thailand","d":40,"v":2839},{"c":"Thailand","d":45,"v":2938},{"c":"Thailand","d":50,"v":2969},{"c":"Thailand","d":55,"v":3009},{"c":"Thailand","d":60,"v":3025},{"c":"Thailand","d":66,"v":3037},
{"c":"Malaysia","d":0,"v":129},{"c":"Malaysia","d":5,"v":428},{"c":"Malaysia","d":10,"v":1030},{"c":"Malaysia","d":15,"v":1796},{"c":"Malaysia","d":20,"v":2626},{"c":"Malaysia","d":25,"v":3483},{"c":"Malaysia","d":30,"v":4228},{"c":"Malaysia","d":35,"v":4817},{"c":"Malaysia","d":40,"v":5389},{"c":"Malaysia","d":45,"v":5780},{"c":"Malaysia","d":50,"v":6071},{"c":"Malaysia","d":55,"v":6428},{"c":"Malaysia","d":60,"v":6742},{"c":"Malaysia","d":65,"v":6894},{"c":"Malaysia","d":70,"v":7059},
{"c":"Australia","d":0,"v":107},{"c":"Australia","d":5,"v":298},{"c":"Australia","d":10,"v":1081},{"c":"Australia","d":15,"v":2799},{"c":"Australia","d":20,"v":4247},{"c":"Australia","d":25,"v":5136},{"c":"Australia","d":30,"v":5895},{"c":"Australia","d":35,"v":6303},{"c":"Australia","d":40,"v":6533},{"c":"Australia","d":45,"v":6649},{"c":"Australia","d":50,"v":6720},{"c":"Australia","d":55,"v":6847},{"c":"Australia","d":60,"v":6939},{"c":"Australia","d":65,"v":7019},{"c":"Australia","d":71,"v":7081},
{"c":"New Zealand","d":0,"v":102},{"c":"New Zealand","d":5,"v":283},{"c":"New Zealand","d":10,"v":708},{"c":"New Zealand","d":15,"v":1039},{"c":"New Zealand","d":20,"v":1239},{"c":"New Zealand","d":25,"v":1366},{"c":"New Zealand","d":30,"v":1431},{"c":"New Zealand","d":35,"v":1456},{"c":"New Zealand","d":40,"v":1474},{"c":"New Zealand","d":45,"v":1487},{"c":"New Zealand","d":50,"v":1497},{"c":"New Zealand","d":55,"v":1499},{"c":"New Zealand","d":60,"v":1503},
{"c":"Cuba","d":0,"v":124},{"c":"Cuba","d":5,"v":186},{"c":"Cuba","d":10,"v":288},{"c":"Cuba","d":15,"v":564},{"c":"Cuba","d":20,"v":766},{"c":"Cuba","d":25,"v":1035},{"c":"Cuba","d":30,"v":1285},{"c":"Cuba","d":35,"v":1467},{"c":"Cuba","d":40,"v":1611},{"c":"Cuba","d":45,"v":1741},{"c":"Cuba","d":50,"v":1810},{"c":"Cuba","d":55,"v":1862},{"c":"Cuba","d":58,"v":1916},
{"c":"Costa Rica","d":0,"v":113},{"c":"Costa Rica","d":5,"v":201},{"c":"Costa Rica","d":10,"v":347},{"c":"Costa Rica","d":15,"v":454},{"c":"Costa Rica","d":20,"v":558},{"c":"Costa Rica","d":25,"v":612},{"c":"Costa Rica","d":30,"v":669},{"c":"Costa Rica","d":35,"v":705},{"c":"Costa Rica","d":40,"v":739},{"c":"Costa Rica","d":45,"v":780},{"c":"Costa Rica","d":50,"v":815},{"c":"Costa Rica","d":55,"v":866},{"c":"Costa Rica","d":61,"v":903},
{"c":"Uruguay","d":0,"v":110},{"c":"Uruguay","d":5,"v":189},{"c":"Uruguay","d":10,"v":309},{"c":"Uruguay","d":15,"v":406},{"c":"Uruguay","d":20,"v":473},{"c":"Uruguay","d":25,"v":502},{"c":"Uruguay","d":30,"v":535},{"c":"Uruguay","d":35,"v":596},{"c":"Uruguay","d":40,"v":648},{"c":"Uruguay","d":45,"v":690},{"c":"Uruguay","d":50,"v":717},{"c":"Uruguay","d":55,"v":732},{"c":"Uruguay","d":63,"v":746},
{"c":"Tunisia","d":0,"v":114},{"c":"Tunisia","d":5,"v":278},{"c":"Tunisia","d":10,"v":455},{"c":"Tunisia","d":15,"v":671},{"c":"Tunisia","d":20,"v":780},{"c":"Tunisia","d":25,"v":866},{"c":"Tunisia","d":30,"v":918},{"c":"Tunisia","d":35,"v":967},{"c":"Tunisia","d":40,"v":994},{"c":"Tunisia","d":45,"v":1032},{"c":"Tunisia","d":50,"v":1035},{"c":"Tunisia","d":58,"v":1045},
{"c":"Jordan","d":0,"v":112},{"c":"Jordan","d":5,"v":212},{"c":"Jordan","d":10,"v":268},{"c":"Jordan","d":15,"v":349},{"c":"Jordan","d":20,"v":389},{"c":"Jordan","d":25,"v":417},{"c":"Jordan","d":30,"v":435},{"c":"Jordan","d":35,"v":453},{"c":"Jordan","d":40,"v":473},{"c":"Jordan","d":45,"v":522},{"c":"Jordan","d":50,"v":562},{"c":"Jordan","d":55,"v":613},{"c":"Jordan","d":60,"v":672},
{"c":"Vietnam","d":0,"v":113},{"c":"Vietnam","d":5,"v":148},{"c":"Vietnam","d":10,"v":212},{"c":"Vietnam","d":15,"v":251},{"c":"Vietnam","d":20,"v":265},{"c":"Vietnam","d":25,"v":268},{"c":"Vietnam","d":30,"v":270},{"c":"Vietnam","d":35,"v":271},{"c":"Vietnam","d":40,"v":288},{"c":"Vietnam","d":45,"v":314},{"c":"Vietnam","d":50,"v":318},{"c":"Vietnam","d":55,"v":320},{"c":"Vietnam","d":60,"v":324},
{"c":"Sri Lanka","d":0,"v":102},{"c":"Sri Lanka","d":5,"v":143},{"c":"Sri Lanka","d":10,"v":178},{"c":"Sri Lanka","d":15,"v":199},{"c":"Sri Lanka","d":20,"v":244},{"c":"Sri Lanka","d":25,"v":460},{"c":"Sri Lanka","d":30,"v":702},{"c":"Sri Lanka","d":35,"v":869},{"c":"Sri Lanka","d":40,"v":960},{"c":"Sri Lanka","d":45,"v":981},{"c":"Sri Lanka","d":50,"v":992},{"c":"Sri Lanka","d":55,"v":1028},
{"c":"Senegal","d":0,"v":105},{"c":"Senegal","d":5,"v":162},{"c":"Senegal","d":10,"v":237},{"c":"Senegal","d":15,"v":291},{"c":"Senegal","d":20,"v":377},{"c":"Senegal","d":25,"v":479},{"c":"Senegal","d":30,"v":933},{"c":"Senegal","d":35,"v":1492},{"c":"Senegal","d":40,"v":1886},{"c":"Senegal","d":45,"v":2310},{"c":"Senegal","d":50,"v":2544},{"c":"Senegal","d":56,"v":2617},
{"c":"Cameroon","d":0,"v":139},{"c":"Cameroon","d":5,"v":306},{"c":"Cameroon","d":10,"v":658},{"c":"Cameroon","d":15,"v":848},{"c":"Cameroon","d":20,"v":1017},{"c":"Cameroon","d":25,"v":1518},{"c":"Cameroon","d":30,"v":1705},{"c":"Cameroon","d":35,"v":2104},{"c":"Cameroon","d":40,"v":2579},{"c":"Cameroon","d":45,"v":3105},{"c":"Cameroon","d":54,"v":3529},
{"c":"Cyprus","d":0,"v":116},{"c":"Cyprus","d":5,"v":214},{"c":"Cyprus","d":10,"v":396},{"c":"Cyprus","d":15,"v":526},{"c":"Cyprus","d":20,"v":662},{"c":"Cyprus","d":25,"v":767},{"c":"Cyprus","d":30,"v":817},{"c":"Cyprus","d":35,"v":857},{"c":"Cyprus","d":40,"v":883},{"c":"Cyprus","d":45,"v":901},{"c":"Cyprus","d":50,"v":915},{"c":"Cyprus","d":59,"v":927},
{"c":"Bulgaria","d":0,"v":127},{"c":"Bulgaria","d":5,"v":264},{"c":"Bulgaria","d":10,"v":439},{"c":"Bulgaria","d":15,"v":593},{"c":"Bulgaria","d":20,"v":747},{"c":"Bulgaria","d":25,"v":915},{"c":"Bulgaria","d":30,"v":1247},{"c":"Bulgaria","d":35,"v":1594},{"c":"Bulgaria","d":40,"v":1921},{"c":"Bulgaria","d":45,"v":2069},{"c":"Bulgaria","d":50,"v":2138},{"c":"Bulgaria","d":55,"v":2235},{"c":"Bulgaria","d":61,"v":2292},
{"c":"Bosnia","d":0,"v":126},{"c":"Bosnia","d":5,"v":258},{"c":"Bosnia","d":10,"v":533},{"c":"Bosnia","d":15,"v":858},{"c":"Bosnia","d":20,"v":1083},{"c":"Bosnia","d":25,"v":1342},{"c":"Bosnia","d":30,"v":1565},{"c":"Bosnia","d":35,"v":1839},{"c":"Bosnia","d":40,"v":2035},{"c":"Bosnia","d":45,"v":2181},{"c":"Bosnia","d":50,"v":2290},{"c":"Bosnia","d":59,"v":2406},
{"c":"Ivory Coast","d":0,"v":101},{"c":"Ivory Coast","d":5,"v":194},{"c":"Ivory Coast","d":10,"v":323},{"c":"Ivory Coast","d":15,"v":533},{"c":"Ivory Coast","d":20,"v":654},{"c":"Ivory Coast","d":25,"v":847},{"c":"Ivory Coast","d":30,"v":1111},{"c":"Ivory Coast","d":35,"v":1398},{"c":"Ivory Coast","d":40,"v":1602},{"c":"Ivory Coast","d":45,"v":1912},{"c":"Ivory Coast","d":50,"v":2017},{"c":"Ivory Coast","d":55,"v":2231},
{"c":"Taiwan","d":0,"v":108},{"c":"Taiwan","d":5,"v":195},{"c":"Taiwan","d":10,"v":298},{"c":"Taiwan","d":15,"v":355},{"c":"Taiwan","d":20,"v":380},{"c":"Taiwan","d":25,"v":395},{"c":"Taiwan","d":30,"v":422},{"c":"Taiwan","d":35,"v":427},{"c":"Taiwan","d":40,"v":429},{"c":"Taiwan","d":45,"v":438},{"c":"Taiwan","d":50,"v":440},{"c":"Taiwan","d":62,"v":440},
{"c":"Hong Kong","d":0,"v":100},{"c":"Hong Kong","d":5,"v":110},{"c":"Hong Kong","d":10,"v":137},{"c":"Hong Kong","d":15,"v":157},{"c":"Hong Kong","d":20,"v":317},{"c":"Hong Kong","d":25,"v":453},{"c":"Hong Kong","d":30,"v":802},{"c":"Hong Kong","d":35,"v":915},{"c":"Hong Kong","d":40,"v":970},{"c":"Hong Kong","d":45,"v":1017},{"c":"Hong Kong","d":50,"v":1035},{"c":"Hong Kong","d":60,"v":1045},{"c":"Hong Kong","d":70,"v":1053},{"c":"Hong Kong","d":78,"v":1056},
{"c":"San Marino","d":0,"v":101},{"c":"San Marino","d":5,"v":109},{"c":"San Marino","d":10,"v":144},{"c":"San Marino","d":15,"v":187},{"c":"San Marino","d":20,"v":223},{"c":"San Marino","d":25,"v":266},{"c":"San Marino","d":30,"v":344},{"c":"San Marino","d":35,"v":461},{"c":"San Marino","d":40,"v":488},{"c":"San Marino","d":45,"v":538},{"c":"San Marino","d":50,"v":569},{"c":"San Marino","d":55,"v":582},{"c":"San Marino","d":60,"v":631},{"c":"San Marino","d":65,"v":655},{"c":"San Marino","d":72,"v":658},
{"c":"Andorra","d":0,"v":113},{"c":"Andorra","d":5,"v":267},{"c":"Andorra","d":10,"v":396},{"c":"Andorra","d":15,"v":525},{"c":"Andorra","d":20,"v":601},{"c":"Andorra","d":25,"v":673},{"c":"Andorra","d":30,"v":717},{"c":"Andorra","d":35,"v":738},{"c":"Andorra","d":40,"v":751},{"c":"Andorra","d":50,"v":758},{"c":"Andorra","d":60,"v":761},
{"c":"Malta","d":0,"v":107},{"c":"Malta","d":5,"v":156},{"c":"Malta","d":10,"v":202},{"c":"Malta","d":15,"v":350},{"c":"Malta","d":20,"v":399},{"c":"Malta","d":25,"v":427},{"c":"Malta","d":30,"v":450},{"c":"Malta","d":35,"v":468},{"c":"Malta","d":40,"v":486},{"c":"Malta","d":45,"v":494},{"c":"Malta","d":50,"v":503},{"c":"Malta","d":57,"v":546},
{"c":"Albania","d":0,"v":104},{"c":"Albania","d":5,"v":186},{"c":"Albania","d":10,"v":277},{"c":"Albania","d":15,"v":400},{"c":"Albania","d":20,"v":467},{"c":"Albania","d":25,"v":584},{"c":"Albania","d":30,"v":712},{"c":"Albania","d":35,"v":776},{"c":"Albania","d":40,"v":832},{"c":"Albania","d":45,"v":876},{"c":"Albania","d":50,"v":933},{"c":"Albania","d":58,"v":969},
{"c":"Latvia","d":0,"v":111},{"c":"Latvia","d":5,"v":221},{"c":"Latvia","d":10,"v":347},{"c":"Latvia","d":15,"v":493},{"c":"Latvia","d":20,"v":577},{"c":"Latvia","d":25,"v":682},{"c":"Latvia","d":30,"v":757},{"c":"Latvia","d":35,"v":818},{"c":"Latvia","d":40,"v":870},{"c":"Latvia","d":45,"v":909},{"c":"Latvia","d":50,"v":939},{"c":"Latvia","d":55,"v":970},{"c":"Latvia","d":62,"v":1016},
{"c":"Lithuania","d":0,"v":105},{"c":"Lithuania","d":5,"v":209},{"c":"Lithuania","d":10,"v":533},{"c":"Lithuania","d":15,"v":843},{"c":"Lithuania","d":20,"v":1053},{"c":"Lithuania","d":25,"v":1298},{"c":"Lithuania","d":30,"v":1399},{"c":"Lithuania","d":35,"v":1438},{"c":"Lithuania","d":40,"v":1491},{"c":"Lithuania","d":45,"v":1547},{"c":"Lithuania","d":50,"v":1562},{"c":"Lithuania","d":61,"v":1562},
{"c":"Mauritius","d":0,"v":102},{"c":"Mauritius","d":5,"v":143},{"c":"Mauritius","d":10,"v":268},{"c":"Mauritius","d":15,"v":318},{"c":"Mauritius","d":20,"v":324},{"c":"Mauritius","d":25,"v":328},{"c":"Mauritius","d":30,"v":331},{"c":"Mauritius","d":40,"v":332},{"c":"Mauritius","d":53,"v":332},
{"c":"Honduras","d":0,"v":110},{"c":"Honduras","d":5,"v":172},{"c":"Honduras","d":10,"v":298},{"c":"Honduras","d":15,"v":343},{"c":"Honduras","d":20,"v":426},{"c":"Honduras","d":25,"v":494},{"c":"Honduras","d":30,"v":627},{"c":"Honduras","d":35,"v":771},{"c":"Honduras","d":40,"v":1010},{"c":"Honduras","d":45,"v":1461},{"c":"Honduras","d":50,"v":2080},{"c":"Honduras","d":53,"v":2955},
{"c":"Bolivia","d":0,"v":107},{"c":"Bolivia","d":5,"v":157},{"c":"Bolivia","d":10,"v":268},{"c":"Bolivia","d":15,"v":354},{"c":"Bolivia","d":20,"v":493},{"c":"Bolivia","d":25,"v":807},{"c":"Bolivia","d":30,"v":1167},{"c":"Bolivia","d":35,"v":1681},{"c":"Bolivia","d":40,"v":2556},{"c":"Bolivia","d":45,"v":3577},{"c":"Bolivia","d":51,"v":4919},
{"c":"Guatemala","d":0,"v":100},{"c":"Guatemala","d":5,"v":126},{"c":"Guatemala","d":10,"v":153},{"c":"Guatemala","d":15,"v":214},{"c":"Guatemala","d":20,"v":316},{"c":"Guatemala","d":25,"v":585},{"c":"Guatemala","d":30,"v":832},{"c":"Guatemala","d":35,"v":967},{"c":"Guatemala","d":40,"v":1342},{"c":"Guatemala","d":45,"v":1912},{"c":"Guatemala","d":49,"v":2512},
{"c":"Armenia","d":0,"v":115},{"c":"Armenia","d":5,"v":194},{"c":"Armenia","d":10,"v":482},{"c":"Armenia","d":15,"v":853},{"c":"Armenia","d":20,"v":1013},{"c":"Armenia","d":25,"v":1201},{"c":"Armenia","d":30,"v":1401},{"c":"Armenia","d":35,"v":1867},{"c":"Armenia","d":40,"v":2619},{"c":"Armenia","d":45,"v":3718},{"c":"Armenia","d":50,"v":4283},{"c":"Armenia","d":55,"v":4823},{"c":"Armenia","d":60,"v":5041},
{"c":"Azerbaijan","d":0,"v":122},{"c":"Azerbaijan","d":5,"v":298},{"c":"Azerbaijan","d":10,"v":584},{"c":"Azerbaijan","d":15,"v":1098},{"c":"Azerbaijan","d":20,"v":1436},{"c":"Azerbaijan","d":25,"v":1617},{"c":"Azerbaijan","d":30,"v":1854},{"c":"Azerbaijan","d":35,"v":2204},{"c":"Azerbaijan","d":40,"v":2693},{"c":"Azerbaijan","d":45,"v":3138},{"c":"Azerbaijan","d":50,"v":3274},{"c":"Azerbaijan","d":56,"v":3387},
{"c":"Georgia","d":0,"v":103},{"c":"Georgia","d":5,"v":174},{"c":"Georgia","d":10,"v":234},{"c":"Georgia","d":15,"v":306},{"c":"Georgia","d":20,"v":425},{"c":"Georgia","d":25,"v":539},{"c":"Georgia","d":30,"v":615},{"c":"Georgia","d":35,"v":650},{"c":"Georgia","d":40,"v":695},{"c":"Georgia","d":45,"v":721},{"c":"Georgia","d":50,"v":732},
{"c":"Iraq","d":0,"v":101},{"c":"Iraq","d":5,"v":164},{"c":"Iraq","d":10,"v":346},{"c":"Iraq","d":15,"v":547},{"c":"Iraq","d":20,"v":772},{"c":"Iraq","d":25,"v":1232},{"c":"Iraq","d":30,"v":1415},{"c":"Iraq","d":35,"v":1602},{"c":"Iraq","d":40,"v":1763},{"c":"Iraq","d":45,"v":1928},{"c":"Iraq","d":50,"v":2296},{"c":"Iraq","d":55,"v":2767},{"c":"Iraq","d":60,"v":3143},{"c":"Iraq","d":65,"v":3404},
{"c":"Kyrgyzstan","d":0,"v":107},{"c":"Kyrgyzstan","d":5,"v":216},{"c":"Kyrgyzstan","d":10,"v":339},{"c":"Kyrgyzstan","d":15,"v":506},{"c":"Kyrgyzstan","d":20,"v":612},{"c":"Kyrgyzstan","d":25,"v":708},{"c":"Kyrgyzstan","d":30,"v":756},{"c":"Kyrgyzstan","d":35,"v":871},{"c":"Kyrgyzstan","d":40,"v":1016},{"c":"Kyrgyzstan","d":45,"v":1117},{"c":"Kyrgyzstan","d":50,"v":1243},
{"c":"Uzbekistan","d":0,"v":104},{"c":"Uzbekistan","d":5,"v":181},{"c":"Uzbekistan","d":10,"v":390},{"c":"Uzbekistan","d":15,"v":624},{"c":"Uzbekistan","d":20,"v":1165},{"c":"Uzbekistan","d":25,"v":1565},{"c":"Uzbekistan","d":30,"v":1904},{"c":"Uzbekistan","d":35,"v":2124},{"c":"Uzbekistan","d":40,"v":2345},{"c":"Uzbekistan","d":45,"v":2612},{"c":"Uzbekistan","d":50,"v":2753},{"c":"Uzbekistan","d":56,"v":2898},
{"c":"North Macedonia","d":0,"v":114},{"c":"North Macedonia","d":5,"v":219},{"c":"North Macedonia","d":10,"v":483},{"c":"North Macedonia","d":15,"v":854},{"c":"North Macedonia","d":20,"v":1170},{"c":"North Macedonia","d":25,"v":1326},{"c":"North Macedonia","d":30,"v":1421},{"c":"North Macedonia","d":35,"v":1494},{"c":"North Macedonia","d":40,"v":1539},{"c":"North Macedonia","d":45,"v":1642},{"c":"North Macedonia","d":50,"v":1762},{"c":"North Macedonia","d":57,"v":1894},
{"c":"El Salvador","d":0,"v":103},{"c":"El Salvador","d":5,"v":149},{"c":"El Salvador","d":10,"v":190},{"c":"El Salvador","d":15,"v":274},{"c":"El Salvador","d":20,"v":395},{"c":"El Salvador","d":25,"v":587},{"c":"El Salvador","d":30,"v":784},{"c":"El Salvador","d":35,"v":998},{"c":"El Salvador","d":40,"v":1338},{"c":"El Salvador","d":43,"v":1640},
{"c":"Slovakia","d":0,"v":137},{"c":"Slovakia","d":5,"v":292},{"c":"Slovakia","d":10,"v":450},{"c":"Slovakia","d":15,"v":581},{"c":"Slovakia","d":20,"v":835},{"c":"Slovakia","d":25,"v":1089},{"c":"Slovakia","d":30,"v":1360},{"c":"Slovakia","d":35,"v":1391},{"c":"Slovakia","d":40,"v":1413},{"c":"Slovakia","d":45,"v":1445},{"c":"Slovakia","d":50,"v":1457},{"c":"Slovakia","d":55,"v":1494},{"c":"Slovakia","d":60,"v":1511},
{"c":"DR Congo","d":0,"v":109},{"c":"DR Congo","d":5,"v":161},{"c":"DR Congo","d":10,"v":223},{"c":"DR Congo","d":15,"v":267},{"c":"DR Congo","d":20,"v":327},{"c":"DR Congo","d":25,"v":377},{"c":"DR Congo","d":30,"v":572},{"c":"DR Congo","d":35,"v":797},{"c":"DR Congo","d":40,"v":1024},{"c":"DR Congo","d":45,"v":1298},{"c":"DR Congo","d":51,"v":1954},
{"c":"Kenya","d":0,"v":122},{"c":"Kenya","d":5,"v":158},{"c":"Kenya","d":10,"v":197},{"c":"Kenya","d":15,"v":246},{"c":"Kenya","d":20,"v":303},{"c":"Kenya","d":25,"v":374},{"c":"Kenya","d":30,"v":465},{"c":"Kenya","d":35,"v":621},{"c":"Kenya","d":40,"v":715},{"c":"Kenya","d":45,"v":887},{"c":"Kenya","d":47,"v":1029},
{"c":"Niger","d":0,"v":120},{"c":"Niger","d":5,"v":253},{"c":"Niger","d":10,"v":529},{"c":"Niger","d":15,"v":648},{"c":"Niger","d":20,"v":696},{"c":"Niger","d":25,"v":719},{"c":"Niger","d":30,"v":750},{"c":"Niger","d":35,"v":781},{"c":"Niger","d":40,"v":815},{"c":"Niger","d":45,"v":885},{"c":"Niger","d":47,"v":909},
{"c":"Mali","d":0,"v":105},{"c":"Mali","d":5,"v":148},{"c":"Mali","d":10,"v":224},{"c":"Mali","d":15,"v":309},{"c":"Mali","d":20,"v":425},{"c":"Mali","d":25,"v":482},{"c":"Mali","d":30,"v":580},{"c":"Mali","d":35,"v":668},{"c":"Mali","d":40,"v":758},{"c":"Mali","d":45,"v":901},
{"c":"Venezuela","d":0,"v":107},{"c":"Venezuela","d":5,"v":135},{"c":"Venezuela","d":10,"v":155},{"c":"Venezuela","d":15,"v":171},{"c":"Venezuela","d":20,"v":193},{"c":"Venezuela","d":25,"v":227},{"c":"Venezuela","d":30,"v":311},{"c":"Venezuela","d":35,"v":331},{"c":"Venezuela","d":40,"v":363},{"c":"Venezuela","d":45,"v":422},{"c":"Venezuela","d":50,"v":541},{"c":"Venezuela","d":57,"v":749},
{"c":"Paraguay","d":0,"v":104},{"c":"Paraguay","d":5,"v":133},{"c":"Paraguay","d":10,"v":174},{"c":"Paraguay","d":15,"v":208},{"c":"Paraguay","d":20,"v":213},{"c":"Paraguay","d":25,"v":228},{"c":"Paraguay","d":30,"v":266},{"c":"Paraguay","d":35,"v":396},{"c":"Paraguay","d":40,"v":563},{"c":"Paraguay","d":45,"v":652},{"c":"Paraguay","d":48,"v":786},
{"c":"Jamaica","d":0,"v":109},{"c":"Jamaica","d":5,"v":143},{"c":"Jamaica","d":10,"v":196},{"c":"Jamaica","d":15,"v":252},{"c":"Jamaica","d":20,"v":394},{"c":"Jamaica","d":25,"v":432},{"c":"Jamaica","d":30,"v":469},{"c":"Jamaica","d":35,"v":507},{"c":"Jamaica","d":40,"v":517},{"c":"Jamaica","d":43,"v":520},
{"c":"Djibouti","d":0,"v":135},{"c":"Djibouti","d":5,"v":298},{"c":"Djibouti","d":10,"v":591},{"c":"Djibouti","d":15,"v":945},{"c":"Djibouti","d":20,"v":1089},{"c":"Djibouti","d":25,"v":1135},{"c":"Djibouti","d":30,"v":1189},{"c":"Djibouti","d":35,"v":1307},{"c":"Djibouti","d":40,"v":1518},{"c":"Djibouti","d":45,"v":2047},{"c":"Djibouti","d":47,"v":2270},
{"c":"Guinea","d":0,"v":111},{"c":"Guinea","d":5,"v":194},{"c":"Guinea","d":10,"v":363},{"c":"Guinea","d":15,"v":579},{"c":"Guinea","d":20,"v":1163},{"c":"Guinea","d":25,"v":1586},{"c":"Guinea","d":30,"v":2042},{"c":"Guinea","d":35,"v":2298},{"c":"Guinea","d":40,"v":2658},{"c":"Guinea","d":46,"v":3067},
{"c":"Trinidad","d":0,"v":103},{"c":"Trinidad","d":5,"v":107},{"c":"Trinidad","d":10,"v":113},{"c":"Trinidad","d":20,"v":116},{"c":"Trinidad","d":50,"v":116},
{"c":"Brunei","d":0,"v":104},{"c":"Brunei","d":5,"v":127},{"c":"Brunei","d":10,"v":135},{"c":"Brunei","d":20,"v":138},{"c":"Brunei","d":40,"v":141},{"c":"Brunei","d":57,"v":141},
{"c":"Cambodia","d":0,"v":103},{"c":"Cambodia","d":5,"v":107},{"c":"Cambodia","d":10,"v":114},{"c":"Cambodia","d":20,"v":122},{"c":"Cambodia","d":56,"v":122},
{"c":"Faroe","d":0,"v":118},{"c":"Faroe","d":5,"v":159},{"c":"Faroe","d":10,"v":179},{"c":"Faroe","d":15,"v":184},{"c":"Faroe","d":30,"v":187},{"c":"Faroe","d":57,"v":187},
{"c":"Gibraltar","d":0,"v":103},{"c":"Gibraltar","d":5,"v":120},{"c":"Gibraltar","d":10,"v":129},{"c":"Gibraltar","d":20,"v":135},{"c":"Gibraltar","d":30,"v":144},{"c":"Gibraltar","d":57,"v":151},
{"c":"Isle of Man","d":0,"v":114},{"c":"Isle of Man","d":5,"v":190},{"c":"Isle of Man","d":10,"v":256},{"c":"Isle of Man","d":15,"v":298},{"c":"Isle of Man","d":20,"v":307},{"c":"Isle of Man","d":30,"v":327},{"c":"Isle of Man","d":53,"v":336},
{"c":"Rwanda","d":0,"v":102},{"c":"Rwanda","d":5,"v":118},{"c":"Rwanda","d":10,"v":126},{"c":"Rwanda","d":15,"v":143},{"c":"Rwanda","d":20,"v":154},{"c":"Rwanda","d":25,"v":212},{"c":"Rwanda","d":30,"v":225},{"c":"Rwanda","d":35,"v":259},{"c":"Rwanda","d":40,"v":271},{"c":"Rwanda","d":45,"v":292},{"c":"Rwanda","d":50,"v":308},
{"c":"Reunion","d":0,"v":111},{"c":"Reunion","d":5,"v":247},{"c":"Reunion","d":10,"v":362},{"c":"Reunion","d":15,"v":391},{"c":"Reunion","d":20,"v":408},{"c":"Reunion","d":30,"v":420},{"c":"Reunion","d":40,"v":424},{"c":"Reunion","d":54,"v":447},
{"c":"Martinique","d":0,"v":105},{"c":"Martinique","d":5,"v":138},{"c":"Martinique","d":10,"v":158},{"c":"Martinique","d":20,"v":170},{"c":"Martinique","d":30,"v":181},{"c":"Martinique","d":40,"v":192},{"c":"Martinique","d":58,"v":192},
{"c":"Guadeloupe","d":0,"v":102},{"c":"Guadeloupe","d":5,"v":125},{"c":"Guadeloupe","d":10,"v":135},{"c":"Guadeloupe","d":20,"v":145},{"c":"Guadeloupe","d":40,"v":152},{"c":"Guadeloupe","d":58,"v":155},
{"c":"Montenegro","d":0,"v":109},{"c":"Montenegro","d":5,"v":214},{"c":"Montenegro","d":10,"v":263},{"c":"Montenegro","d":15,"v":283},{"c":"Montenegro","d":20,"v":307},{"c":"Montenegro","d":25,"v":320},{"c":"Montenegro","d":35,"v":324},{"c":"Montenegro","d":50,"v":324},
{"c":"Palestine","d":0,"v":117},{"c":"Palestine","d":5,"v":161},{"c":"Palestine","d":10,"v":237},{"c":"Palestine","d":15,"v":263},{"c":"Palestine","d":20,"v":268},{"c":"Palestine","d":25,"v":335},{"c":"Palestine","d":30,"v":342},{"c":"Palestine","d":35,"v":375},{"c":"Palestine","d":45,"v":391},{"c":"Palestine","d":55,"v":423},
{"c":"Burkina Faso","d":0,"v":114},{"c":"Burkina Faso","d":5,"v":207},{"c":"Burkina Faso","d":10,"v":282},{"c":"Burkina Faso","d":15,"v":414},{"c":"Burkina Faso","d":20,"v":542},{"c":"Burkina Faso","d":25,"v":581},{"c":"Burkina Faso","d":30,"v":635},{"c":"Burkina Faso","d":35,"v":649},{"c":"Burkina Faso","d":40,"v":672},{"c":"Burkina Faso","d":45,"v":751},{"c":"Burkina Faso","d":50,"v":782},{"c":"Burkina Faso","d":57,"v":796},
{"c":"Madagascar","d":0,"v":102},{"c":"Madagascar","d":5,"v":117},{"c":"Madagascar","d":10,"v":121},{"c":"Madagascar","d":20,"v":128},{"c":"Madagascar","d":30,"v":151},{"c":"Madagascar","d":35,"v":193},{"c":"Madagascar","d":40,"v":212},{"c":"Madagascar","d":45,"v":304},{"c":"Madagascar","d":51,"v":371},
{"c":"Jersey","d":0,"v":112},{"c":"Jersey","d":5,"v":150},{"c":"Jersey","d":10,"v":200},{"c":"Jersey","d":15,"v":241},{"c":"Jersey","d":20,"v":260},{"c":"Jersey","d":30,"v":285},{"c":"Jersey","d":40,"v":300},{"c":"Jersey","d":53,"v":309},
{"c":"Guernsey","d":0,"v":114},{"c":"Guernsey","d":5,"v":180},{"c":"Guernsey","d":10,"v":225},{"c":"Guernsey","d":15,"v":240},{"c":"Guernsey","d":25,"v":250},{"c":"Guernsey","d":55,"v":252},
{"c":"Tanzania","d":0,"v":147},{"c":"Tanzania","d":5,"v":254},{"c":"Tanzania","d":10,"v":299},{"c":"Tanzania","d":15,"v":480},{"c":"Tanzania","d":20,"v":480},{"c":"Tanzania","d":25,"v":509},{"c":"Tanzania","d":35,"v":509},
{"c":"Somalia","d":0,"v":116},{"c":"Somalia","d":5,"v":237},{"c":"Somalia","d":10,"v":436},{"c":"Somalia","d":15,"v":601},{"c":"Somalia","d":20,"v":722},{"c":"Somalia","d":25,"v":997},{"c":"Somalia","d":30,"v":1284},{"c":"Somalia","d":35,"v":1502},
{"c":"Sudan","d":0,"v":107},{"c":"Sudan","d":5,"v":162},{"c":"Sudan","d":10,"v":275},{"c":"Sudan","d":15,"v":592},{"c":"Sudan","d":20,"v":1164},{"c":"Sudan","d":25,"v":1964},{"c":"Sudan","d":30,"v":2591},{"c":"Sudan","d":33,"v":2728},
{"c":"Kosovo","d":0,"v":112},{"c":"Kosovo","d":5,"v":184},{"c":"Kosovo","d":10,"v":283},{"c":"Kosovo","d":15,"v":510},{"c":"Kosovo","d":20,"v":695},{"c":"Kosovo","d":25,"v":799},{"c":"Kosovo","d":30,"v":852},{"c":"Kosovo","d":35,"v":861},{"c":"Kosovo","d":40,"v":944},{"c":"Kosovo","d":45,"v":988},{"c":"Kosovo","d":54,"v":989}
],
"hl":[
{"c":"Poland","d":0,"v":103},{"c":"Poland","d":1,"v":119},{"c":"Poland","d":2,"v":177},{"c":"Poland","d":3,"v":238},{"c":"Poland","d":4,"v":251},{"c":"Poland","d":5,"v":355},{"c":"Poland","d":6,"v":425},{"c":"Poland","d":7,"v":536},{"c":"Poland","d":8,"v":634},{"c":"Poland","d":9,"v":749},{"c":"Poland","d":10,"v":901},{"c":"Poland","d":11,"v":1051},{"c":"Poland","d":12,"v":1221},{"c":"Poland","d":13,"v":1389},{"c":"Poland","d":14,"v":1638},{"c":"Poland","d":15,"v":1862},{"c":"Poland","d":16,"v":2055},{"c":"Poland","d":17,"v":2311},{"c":"Poland","d":18,"v":2554},{"c":"Poland","d":19,"v":2946},{"c":"Poland","d":20,"v":3383},{"c":"Poland","d":21,"v":3627},{"c":"Poland","d":22,"v":4102},{"c":"Poland","d":23,"v":4413},{"c":"Poland","d":24,"v":4848},{"c":"Poland","d":25,"v":5205},{"c":"Poland","d":26,"v":5575},{"c":"Poland","d":27,"v":5955},{"c":"Poland","d":28,"v":6356},{"c":"Poland","d":29,"v":6674},{"c":"Poland","d":30,"v":6934},{"c":"Poland","d":31,"v":7202},{"c":"Poland","d":32,"v":7582},{"c":"Poland","d":33,"v":7918},{"c":"Poland","d":34,"v":8379},{"c":"Poland","d":35,"v":8742},{"c":"Poland","d":36,"v":9287},{"c":"Poland","d":37,"v":9593},{"c":"Poland","d":38,"v":9856},{"c":"Poland","d":39,"v":10169},{"c":"Poland","d":40,"v":10511},{"c":"Poland","d":41,"v":10892},{"c":"Poland","d":42,"v":11273},{"c":"Poland","d":43,"v":11617},{"c":"Poland","d":44,"v":11902},{"c":"Poland","d":45,"v":12218},{"c":"Poland","d":46,"v":12640},{"c":"Poland","d":47,"v":12877},{"c":"Poland","d":48,"v":13105},{"c":"Poland","d":49,"v":13375},{"c":"Poland","d":50,"v":13693},{"c":"Poland","d":51,"v":14006},{"c":"Poland","d":52,"v":14431},{"c":"Poland","d":53,"v":14740},{"c":"Poland","d":54,"v":15047},{"c":"Poland","d":55,"v":15366},{"c":"Poland","d":56,"v":15651},{"c":"Poland","d":57,"v":15996},{"c":"Poland","d":58,"v":16326},{"c":"Poland","d":59,"v":16921},{"c":"Poland","d":60,"v":17204},{"c":"Poland","d":61,"v":17615},{"c":"Poland","d":62,"v":18016},{"c":"Poland","d":63,"v":18257},{"c":"Poland","d":64,"v":18529},{"c":"Poland","d":65,"v":18746},{"c":"Poland","d":66,"v":19268},{"c":"Poland","d":67,"v":19739},{"c":"Poland","d":68,"v":20143},
{"c":"Ukraine","d":0,"v":113},{"c":"Ukraine","d":1,"v":145},{"c":"Ukraine","d":2,"v":196},{"c":"Ukraine","d":3,"v":310},{"c":"Ukraine","d":4,"v":418},{"c":"Ukraine","d":5,"v":475},{"c":"Ukraine","d":6,"v":548},{"c":"Ukraine","d":7,"v":794},{"c":"Ukraine","d":8,"v":804},{"c":"Ukraine","d":9,"v":987},{"c":"Ukraine","d":10,"v":1072},{"c":"Ukraine","d":11,"v":1225},{"c":"Ukraine","d":12,"v":1308},{"c":"Ukraine","d":13,"v":1462},{"c":"Ukraine","d":14,"v":1668},{"c":"Ukraine","d":15,"v":1892},{"c":"Ukraine","d":16,"v":2203},{"c":"Ukraine","d":17,"v":2511},{"c":"Ukraine","d":18,"v":2777},{"c":"Ukraine","d":19,"v":3102},{"c":"Ukraine","d":20,"v":3372},{"c":"Ukraine","d":21,"v":4161},{"c":"Ukraine","d":22,"v":4662},{"c":"Ukraine","d":23,"v":5106},{"c":"Ukraine","d":24,"v":5449},{"c":"Ukraine","d":25,"v":5710},{"c":"Ukraine","d":26,"v":6125},{"c":"Ukraine","d":27,"v":6592},{"c":"Ukraine","d":28,"v":7170},{"c":"Ukraine","d":29,"v":7647},{"c":"Ukraine","d":30,"v":8125},{"c":"Ukraine","d":31,"v":8617},{"c":"Ukraine","d":32,"v":9009},{"c":"Ukraine","d":33,"v":9410},{"c":"Ukraine","d":34,"v":9866},{"c":"Ukraine","d":35,"v":10406},{"c":"Ukraine","d":36,"v":10861},{"c":"Ukraine","d":37,"v":11411},{"c":"Ukraine","d":38,"v":11913},{"c":"Ukraine","d":39,"v":12331},{"c":"Ukraine","d":40,"v":12697},{"c":"Ukraine","d":41,"v":13184},{"c":"Ukraine","d":42,"v":13691},{"c":"Ukraine","d":43,"v":14195},{"c":"Ukraine","d":44,"v":14710},{"c":"Ukraine","d":45,"v":15232},{"c":"Ukraine","d":46,"v":15648},{"c":"Ukraine","d":47,"v":16023},{"c":"Ukraine","d":48,"v":16425},{"c":"Ukraine","d":49,"v":16847},{"c":"Ukraine","d":50,"v":17330},{"c":"Ukraine","d":51,"v":17858},{"c":"Ukraine","d":52,"v":18291},{"c":"Ukraine","d":53,"v":18616},{"c":"Ukraine","d":54,"v":18876},{"c":"Ukraine","d":55,"v":19030},{"c":"Ukraine","d":56,"v":19180},{"c":"Ukraine","d":57,"v":19350}
]},
"encoding":{
"x":{"field":"d","type":"quantitative","scale":{"domain":[0,130],"nice":false,"zero":false},
 "axis":{"values":[10,20,30,40,50,60,70,80,90,100,110,120],"title":"Number of days since 100 total cases first recorded","titleAnchor":"start","titleAlign":"left","titleX":0,"titleY":52,"titleBaseline":"middle","titleFontWeight":"normal","titleFontSize":22,"titleColor":"#66605c","titleFont":"Open Sans","labelFont":"Open Sans","labelFontSize":22,"labelColor":"#66605c","labelPadding":5,"ticks":false,"domainColor":"#8e837b","domainWidth":2,"gridColor":"#e6dace","gridWidth":1.5}},
"y":{"field":"v","type":"quantitative","scale":{"type":"log","domain":[100,2000000],"nice":false},
 "axis":{"values":[100,200,500,1000,2000,5000,10000,20000,50000,100000,200000,500000,1000000,2000000],"format":",","title":null,"labelFont":"Open Sans","labelFontSize":22.5,"labelColor":"#66605c","labelPadding":7,"ticks":false,"domain":false,"gridColor":"#e6dace","gridWidth":1.5}}
},
"layer":[
{"data":{"name":"grey"},"mark":{"type":"line","color":"#b3aaa2","strokeWidth":1.5,"clip":true},"encoding":{"detail":{"field":"c"}}},
{"data":{"name":"hl"},"mark":{"type":"line","strokeWidth":4,"strokeJoin":"round"},"encoding":{"color":{"field":"c","scale":{"domain":["Ukraine","Poland"],"range":["#0f5499","#e95d8c"]},"legend":null}}},
{"data":{"name":"hl"},"transform":[{"joinaggregate":[{"op":"max","field":"d","as":"maxd"}],"groupby":["c"]},{"filter":"datum.d == datum.maxd"}],"mark":{"type":"point","filled":true,"size":180,"opacity":1},"encoding":{"color":{"field":"c","scale":{"domain":["Ukraine","Poland"],"range":["#0f5499","#e95d8c"]},"legend":null}}},
{"data":{"name":"hl"},"transform":[{"joinaggregate":[{"op":"max","field":"d","as":"maxd"}],"groupby":["c"]},{"filter":"datum.d == datum.maxd"}],"mark":{"type":"text","align":"left","baseline":"middle","dx":14,"fontSize":22,"font":"Open Sans","stroke":"#fff1e5","strokeWidth":6,"strokeJoin":"round","fill":"#fff1e5"},"encoding":{"text":{"field":"c"}}},
{"data":{"name":"hl"},"transform":[{"joinaggregate":[{"op":"max","field":"d","as":"maxd"}],"groupby":["c"]},{"filter":"datum.d == datum.maxd"}],"mark":{"type":"text","align":"left","baseline":"middle","dx":14,"fontSize":22,"font":"Open Sans"},"encoding":{"text":{"field":"c"},"color":{"field":"c","scale":{"domain":["Ukraine","Poland"],"range":["#0f5499","#e95d8c"]},"legend":null}}}
]
}
